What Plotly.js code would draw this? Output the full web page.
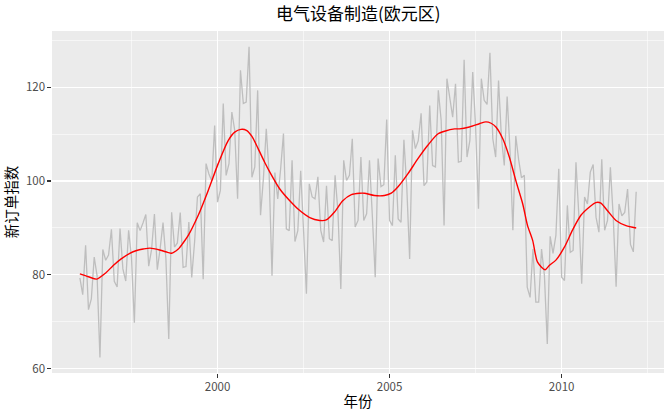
<!DOCTYPE html>
<html>
<head>
<meta charset="utf-8">
<script src="https://cdn.plot.ly/plotly-3.0.1.min.js"></script>
<style>html,body{margin:0;padding:0;background:#fff;}#chart{width:672px;height:415px;}</style>
</head>
<body>
<div id="chart"></div>
<script>
// Monthly series, Jan 1996 – Mar 2012
const startYear = 1996;
const values1996 = [79.35, 75.78, 86.32, 72.60, 74.86, 83.81, 79.80, 62.41, 85.41, 83.11, 84.21, 89.70];
const values1997 = [78.64, 77.42, 89.86, 81.27, 78.68, 89.51, 83.67, 69.80, 91.09, 89.43, 91.04, 92.87];
const values1998 = [81.87, 85.36, 92.98, 81.09, 85.64, 91.14, 83.46, 66.37, 93.34, 85.93, 86.81, 93.30];
const values1999 = [81.59, 81.77, 91.24, 79.45, 87.0, 96.6, 97.3, 79.1, 103.7, 101.5, 100.0, 111.8];
const values2000 = [95.5, 98.0, 116.5, 101.2, 103.7, 114.7, 110.8, 96.2, 123.6, 116.5, 116.8, 128.6];
const values2001 = [100.8, 103.0, 119.3, 92.7, 100.5, 111.1, 101.5, 79.8, 101.8, 96.2, 102.5, 110.1];
const values2002 = [89.8, 89.4, 104.4, 87.1, 89.4, 102.2, 89.5, 76.0, 99.4, 96.6, 96.2, 100.9];
const values2003 = [89.5, 87.0, 99.0, 87.7, 87.3, 101.2, 93.4, 77.0, 104.4, 100.1, 101.2, 109.0];
const values2004 = [90.2, 91.6, 105.1, 91.6, 93.0, 104.4, 92.5, 79.5, 104.8, 98.8, 99.2, 113.1];
const values2005 = [91.6, 90.5, 105.5, 91.9, 91.2, 108.8, 98.7, 83.4, 110.8, 106.9, 108.6, 114.4];
const values2006 = [99.0, 99.8, 116.1, 103.3, 103.0, 119.3, 112.9, 90.5, 121.8, 117.5, 113.6, 120.7];
const values2007 = [104.0, 104.2, 125.8, 105.1, 108.6, 123.2, 111.5, 94.1, 121.8, 117.2, 116.3, 127.3];
const values2008 = [109.0, 105.1, 121.4, 109.3, 103.3, 118.0, 106.5, 89.5, 109.6, 104.6, 100.7, 101.2];
const values2009 = [77.4, 75.2, 85.5, 74.2, 74.2, 85.5, 79.9, 65.3, 88.2, 84.6, 88.4, 102.6];
const values2010 = [79.5, 78.8, 94.8, 84.8, 85.2, 104.0, 92.7, 78.1, 96.6, 95.1, 101.9, 103.5];
const values2011 = [92.3, 89.1, 104.6, 89.5, 91.6, 102.9, 92.3, 77.5, 95.1, 92.6, 93.3, 98.3];
const values2012 = [86.5, 84.9, 97.7];

// Smoothed trend (time in decimal years, value)
const trendTime = [1996.0, 1996.25, 1996.49, 1996.75, 1996.97, 1997.2, 1997.45, 1997.65, 1997.84, 1998.04,
  1998.32, 1998.55, 1998.66, 1998.86, 1999.0, 1999.15, 1999.44, 1999.73, 2000.02, 2000.31,
  2000.5, 2000.68, 2000.84, 2001.0, 2001.18, 2001.37, 2001.52, 2001.81, 2002.1, 2002.39,
  2002.68, 2002.97, 2003.16, 2003.4, 2003.64, 2003.89, 2004.13, 2004.27, 2004.56, 2004.85,
  2005.05, 2005.24, 2005.53, 2005.82, 2006.11, 2006.4, 2006.6, 2006.89, 2007.03, 2007.32,
  2007.61, 2007.8, 2007.95, 2008.09, 2008.29, 2008.48, 2008.68, 2008.87, 2009.01, 2009.16,
  2009.3, 2009.52, 2009.64, 2009.84, 2010.08, 2010.32, 2010.56, 2010.8, 2010.99, 2011.14,
  2011.33, 2011.58, 2011.87, 2012.167];
const trendValue = [80.2, 79.6, 79.1, 80.4, 82.0, 83.4, 84.6, 85.2, 85.5, 85.7,
  85.3, 84.8, 84.6, 85.5, 86.8, 88.4, 92.7, 98.0, 103.7, 108.6,
  110.4, 111.0, 110.8, 109.5, 106.9, 104.0, 101.9, 98.3, 95.8, 93.7,
  92.2, 91.6, 91.7, 93.4, 95.8, 97.1, 97.4, 97.4, 96.9, 96.9,
  97.4, 98.7, 101.5, 104.7, 107.6, 110.0, 110.6, 111.1, 111.1, 111.5,
  112.2, 112.6, 112.3, 111.5, 109.0, 105.1, 99.8, 95.1, 90.5, 87.3,
  82.7, 81.1, 82.0, 83.2, 85.9, 89.6, 92.7, 94.4, 95.4, 95.3,
  93.7, 91.6, 90.5, 90.0];

const titleText = "电气设备制造(欧元区)";
const xTitle = "年份";
const yTitle = "新订单指数";
const xTickVals = [2000, 2005, 2010];
const xTickText = ["2000", "2005", "2010"];
const yTickVals = [60, 80, 100, 120];
const yTickText = ["60", "80", "100", "120"];

const yearly = [values1996, values1997, values1998, values1999, values2000, values2001, values2002,
  values2003, values2004, values2005, values2006, values2007, values2008, values2009, values2010,
  values2011, values2012];
const seriesX = [], seriesY = [];
yearly.forEach((arr, i) => arr.forEach((v, m) => { seriesX.push(startYear + i + m / 12); seriesY.push(v); }));

const font = "Noto Sans CJK SC, Noto Sans, sans-serif";

Plotly.newPlot("chart", [
  {x: seriesX, y: seriesY, type: "scatter", mode: "lines",
   line: {color: "#BEBEBE", width: 1.3}, hoverinfo: "skip"},
  {x: trendTime, y: trendValue, type: "scatter", mode: "lines",
   line: {color: "#FF0000", width: 1.4, shape: "spline", smoothing: 0.7}, hoverinfo: "skip"}
], {
  width: 672, height: 415,
  margin: {l: 52, r: 8, t: 31, b: 42},
  paper_bgcolor: "#FFFFFF",
  plot_bgcolor: "#EBEBEB",
  showlegend: false,
  font: {family: font, color: "#000000"},
  title: {text: titleText, x: 0.533, xanchor: "center", y: 0.967, yanchor: "middle",
          font: {family: font, size: 17, color: "#000000"}},
  xaxis: {
    range: [1995.19, 2012.975], tickmode: "array", tickvals: xTickVals, ticktext: xTickText,
    ticks: "outside", ticklen: 3.6, tickwidth: 1.07, tickcolor: "#333333",
    tickfont: {family: font, size: 11.5, color: "#4D4D4D"},
    showgrid: true, gridcolor: "#FFFFFF", gridwidth: 1.07, zeroline: false, showline: false,
    minor: {tickmode: "array", tickvals: [1997.5, 2002.5, 2007.5, 2012.5], showgrid: true, gridcolor: "#FFFFFF", gridwidth: 0.53, ticks: ""},
    title: {text: xTitle, standoff: 3, font: {family: font, size: 14.5, color: "#000000"}},
    automargin: false, fixedrange: true
  },
  yaxis: {
    range: [59.1, 131.95], tickmode: "array", tickvals: yTickVals, ticktext: yTickText,
    ticks: "outside", ticklen: 3.6, tickwidth: 1.07, tickcolor: "#333333",
    tickfont: {family: font, size: 11.5, color: "#4D4D4D"},
    showgrid: true, gridcolor: "#FFFFFF", gridwidth: 1.07, zeroline: false, showline: false,
    minor: {tickmode: "array", tickvals: [70, 90, 110, 130], showgrid: true, gridcolor: "#FFFFFF", gridwidth: 0.53, ticks: ""},
    title: {text: yTitle, standoff: 4, font: {family: font, size: 14.5, color: "#000000"}},
    automargin: false, fixedrange: true
  }
}, {staticPlot: true, displayModeBar: false});
</script>
</body>
</html>
